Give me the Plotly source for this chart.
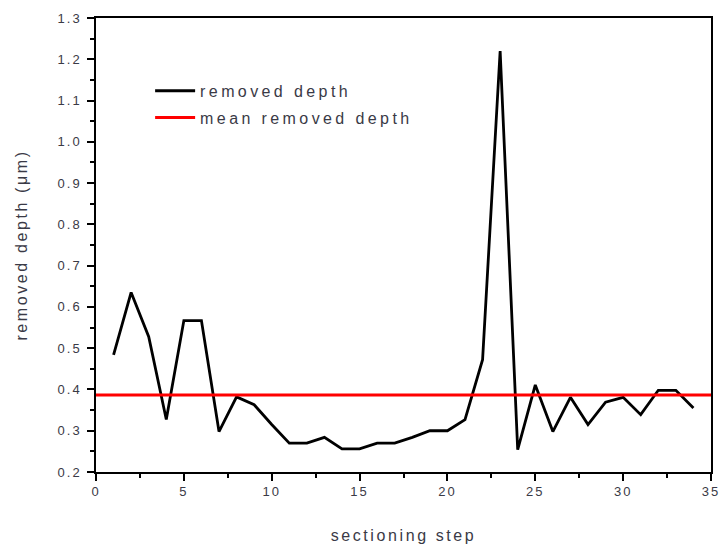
import plotly.graph_objects as go

# sectioning step index and measured removed depth per step (µm)
steps = list(range(1, 35))
removed_depth = [
    0.484, 0.635, 0.528, 0.327, 0.567, 0.567, 0.298, 0.382, 0.363, 0.315,
    0.270, 0.270, 0.284, 0.256, 0.256, 0.270, 0.270, 0.284, 0.300, 0.300,
    0.327, 0.472, 1.220, 0.254, 0.411, 0.298, 0.381, 0.315, 0.369, 0.381,
    0.339, 0.398, 0.398, 0.355,
]
mean_depth = sum(removed_depth) / len(removed_depth)

x_ticks = [0, 5, 10, 15, 20, 25, 30, 35]
y_ticks = [0.2, 0.3, 0.4, 0.5, 0.6, 0.7, 0.8, 0.9, 1.0, 1.1, 1.2, 1.3]

font_family = "Liberation Sans, Arial, sans-serif"
text_color = "#3a3a46"

fig = go.Figure()
fig.add_trace(go.Scatter(
    x=steps, y=removed_depth, mode="lines", name="removed depth",
    legendgroup="a", line=dict(color="black", width=2.8),
))
fig.add_trace(go.Scatter(
    x=[0, 35], y=[mean_depth, mean_depth], mode="lines", name="mean removed depth",
    legendgroup="b", line=dict(color="#ff0000", width=3),
))

axis_common = dict(
    showline=True, linecolor="black", linewidth=1.5, mirror=True,
    showgrid=False, zeroline=False, automargin=False,
    ticks="outside", ticklen=7, tickwidth=1.5, tickcolor="black",
    tickfont=dict(family=font_family, size=13, color=text_color),
)

fig.update_layout(
    width=724, height=545,
    margin=dict(l=96, r=13, t=18, b=73),
    paper_bgcolor="white", plot_bgcolor="white",
    font=dict(family=font_family, color=text_color),
    xaxis=dict(
        range=[0, 35], tickvals=x_ticks, ticktext=[str(v) for v in x_ticks],
        minor=dict(dtick=2.5, tick0=0, ticks="outside", ticklen=4, tickwidth=1.5, tickcolor="black"),
        title=dict(text="sectioning step",
                   font=dict(family=font_family, size=16, color=text_color), standoff=31),
        **axis_common,
    ),
    yaxis=dict(
        range=[0.2, 1.3], tickvals=y_ticks, ticktext=[f"{v:.1f}" for v in y_ticks],
        minor=dict(dtick=0.05, tick0=0.2, ticks="outside", ticklen=4, tickwidth=1.5, tickcolor="black"),
        ticklabelstandoff=3,
        title=dict(text="removed depth (μm)",
                   font=dict(family=font_family, size=16, color=text_color), standoff=32),
        **axis_common,
    ),
    legend=dict(
        x=0.088, y=0.877, xanchor="left", yanchor="top",
        bgcolor="rgba(0,0,0,0)", borderwidth=0,
        font=dict(family=font_family, size=16, color=text_color),
        tracegroupgap=3, itemwidth=40,
    ),
)

# widen the character spacing of the labels after the plot is drawn
spacing_js = """
var gd = document.getElementById('{plot_id}');
function spaceText() {
  gd.querySelectorAll('.xtick text, .ytick text').forEach(function (t) { t.style.letterSpacing = '2px'; });
  gd.querySelectorAll('.legendtext').forEach(function (t) { t.style.letterSpacing = '3.4px'; });
  gd.querySelectorAll('.xtitle, .ytitle').forEach(function (t) { t.style.letterSpacing = '2.6px'; });
  gd.querySelectorAll('.legend .scrollbox, .legend').forEach(function (g) { g.removeAttribute('clip-path'); });
}
spaceText();
gd.on('plotly_afterplot', spaceText);
"""

fig.write_html("out.html", post_script=spacing_js)
